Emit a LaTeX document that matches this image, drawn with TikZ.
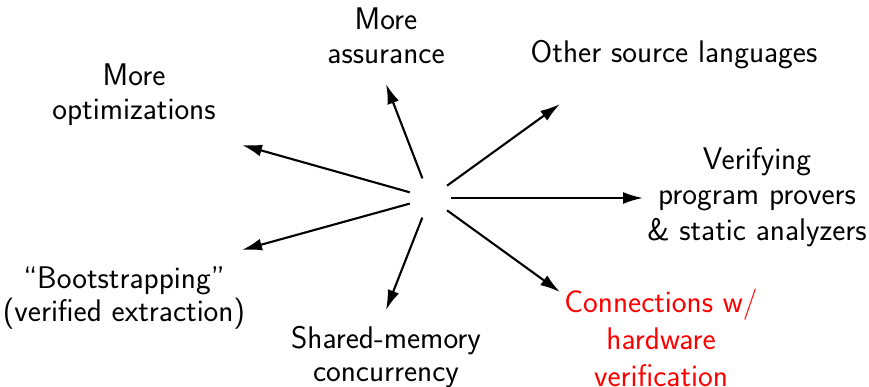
\documentclass[tikz,border=0pt]{standalone}
\usepackage{tikz}
\usetikzlibrary{positioning,arrows.meta}
\tikzstyle{hub}=[%
      circle, inner sep=0pt, minimum size=0.8cm
]
\tikzstyle{goal}=[%
      rectangle, align=center, inner sep=0pt, font=\sffamily\fontsize{17.8}{19.2}\selectfont
]
\tikzstyle{hot}=[%
      goal, text=red
]
\begin{document}
\begin{tikzpicture}[x=0.02cm, y=-0.02cm,
    ->,
    >={Latex[length=4mm,width=2.4mm]},
    line width=1.2pt,
]
    \useasboundingbox (0,0) rectangle (869,386);

    \node[hub]  (hub)    at (430,198) {};

    % where the arrows stop
    \coordinate (toOpt)    at (242,145);
    \coordinate (toAssur)  at (386,84);
    \coordinate (toOther)  at (560,104);
    \coordinate (toProver) at (643,198);
    \coordinate (toHw)     at (560,292);
    \coordinate (toShared) at (386,310);
    \coordinate (toBoot)   at (242,250);

    \node[goal] (assur)  at (386,36)  {More\\assurance};
    \node[goal] (opt)    at (134,95)  {More\\optimizations};
    \node[goal] (other)  at (674,55)  {Other source languages};
    \node[goal] (prover) at (757,197) {Verifying\\[1pt]program provers\\[1pt]\& static analyzers};
    \node[hot]  (hw)     at (661,338) {Connections w/\\[2pt]hardware\\[2pt]verification};
    \node[goal] (shared) at (386,357) {Shared-memory\\concurrency};
    \node[goal] (boot)   at (124,298) {``Bootstrapping''\\(verified extraction)};

    \path (hub) edge (toOpt)
          (hub) edge (toAssur)
          (hub) edge (toOther)
          (hub) edge (toProver)
          (hub) edge (toHw)
          (hub) edge (toShared)
          (hub) edge (toBoot)
    ;
\end{tikzpicture}
\end{document}
